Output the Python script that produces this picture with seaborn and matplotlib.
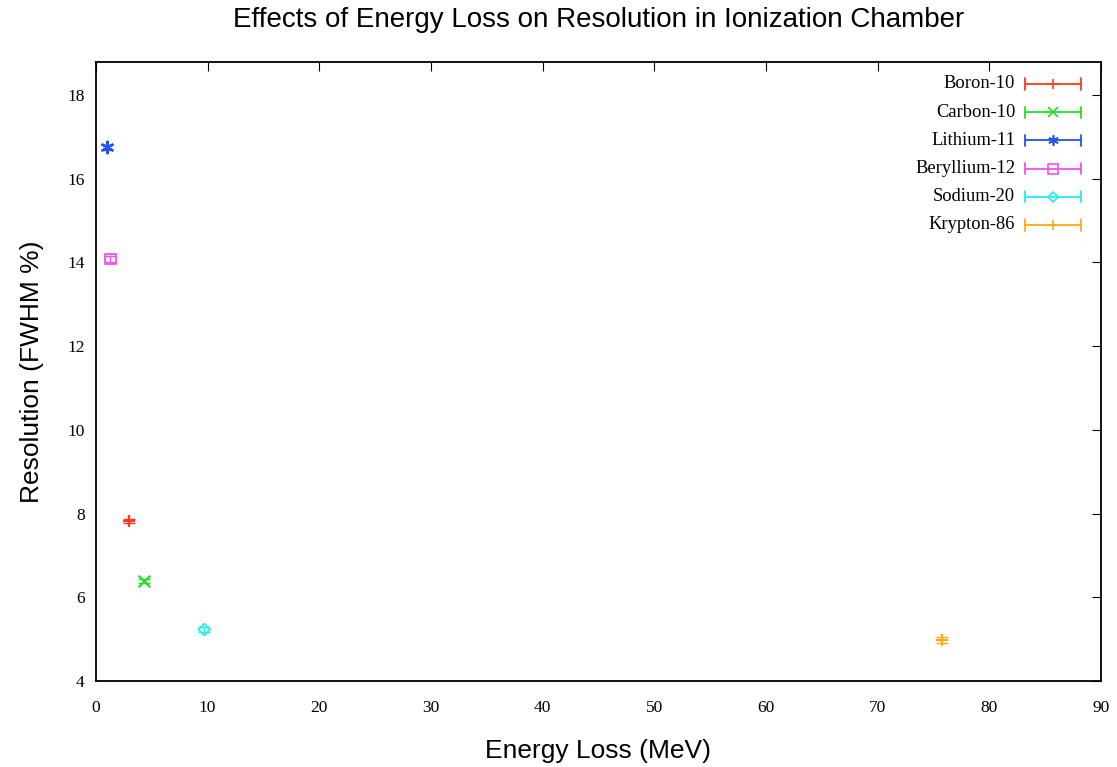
import matplotlib
matplotlib.use("Agg")
import matplotlib.pyplot as plt
from matplotlib.lines import Line2D
import seaborn as sns
import pandas as pd

# Measured resolution vs. energy loss per isotope
isotopes = ["Boron-10", "Carbon-10", "Lithium-11", "Beryllium-12", "Sodium-20", "Krypton-86"]
energy_loss = [3.0, 4.3, 1.0, 1.3, 9.7, 75.8]
resolution = [7.83, 6.39, 16.75, 14.08, 5.23, 4.98]
resolution_err = [0.05, 0.05, 0.06, 0.07, 0.05, 0.06]

colors = ["#ff3a1f", "#22e022", "#1f55f0", "#f050f0", "#1ef0f0", "#ffaa10"]
markers = ["+", "x", (6, 2, 0), "s", "D", "+"]
filled = [True, True, True, False, False, True]

x_ticks = [0, 10, 20, 30, 40, 50, 60, 70, 80, 90]
y_ticks = [4, 6, 8, 10, 12, 14, 16, 18]

df = pd.DataFrame({"isotope": isotopes, "energy": energy_loss,
                   "res": resolution, "err": resolution_err})

sns.set_theme(style="white")
plt.rcParams["font.family"] = ["Liberation Serif", "DejaVu Serif"]
plt.rcParams["text.color"] = "black"
plt.rcParams["axes.labelcolor"] = "black"

fig = plt.figure(figsize=(11.17, 7.67), dpi=100)
ax = fig.add_axes([0.0859, 0.1121, 0.8998, 0.8071])

for i, row in df.iterrows():
    ax.errorbar(row["energy"], row["res"], yerr=row["err"], fmt="none",
                ecolor=colors[i], elinewidth=1.0, capsize=4, capthick=1.0, zorder=2)
    m = markers[i]
    sub = df.iloc[[i]]
    if filled[i]:
        sns.scatterplot(data=sub, x="energy", y="res", ax=ax, marker=m, s=70,
                        color=colors[i], linewidth=1.6, legend=False, zorder=3)
    else:
        sns.scatterplot(data=sub, x="energy", y="res", ax=ax, marker=m,
                        s=55 if m == "s" else 35, facecolor="none",
                        edgecolor=colors[i], linewidth=1.3, legend=False, zorder=3)

ax.set_xlim(0, 90)
ax.set_ylim(4, 18.79)
ax.set_xticks(x_ticks)
ax.set_yticks(y_ticks)
ax.tick_params(axis="both", direction="in", length=6.5, width=0.8,
               top=True, right=True, labelsize=12.5, colors="black", pad=14)
ax.tick_params(axis="y", pad=8)
for sp in ax.spines.values():
    sp.set_color("black")
    sp.set_linewidth(1.3)

sans = ["Liberation Sans", "DejaVu Sans"]
ax.set_title("Effects of Energy Loss on Resolution in Ionization Chamber",
             family=sans, fontsize=20, pad=25, color="black")
ax.set_xlabel("Energy Loss (MeV)", family=sans, fontsize=19, labelpad=16, color="black")
ax.set_ylabel("Resolution (FWHM %)", family=sans, fontsize=19, labelpad=17, color="black")

# Key: label on the left, errorbar-style sample on the right
x0, x1 = 0.9241, 0.9801
xm = (x0 + x1) / 2
cap = 0.009
y_top = 1 - (84 - 62) / 619.0
dy = 28.2 / 619.0
for i, name in enumerate(isotopes):
    y = y_top - i * dy
    ax.text(x0 - 0.0095, y, name, transform=ax.transAxes, ha="right", va="center",
            fontsize=13.3, color="black")
    ax.add_line(Line2D([x0, x1], [y, y], transform=ax.transAxes, color=colors[i], lw=1.3))
    for xe in (x0, x1):
        ax.add_line(Line2D([xe, xe], [y - cap, y + cap], transform=ax.transAxes,
                           color=colors[i], lw=1.3))
    ax.add_line(Line2D([xm], [y], transform=ax.transAxes, marker=markers[i],
                       markersize=7.5 if markers[i] != "D" else 5.5,
                       markerfacecolor="none" if not filled[i] else colors[i],
                       markeredgecolor=colors[i], markeredgewidth=1.2, linestyle="none"))

fig.savefig("out.png", dpi=100)
